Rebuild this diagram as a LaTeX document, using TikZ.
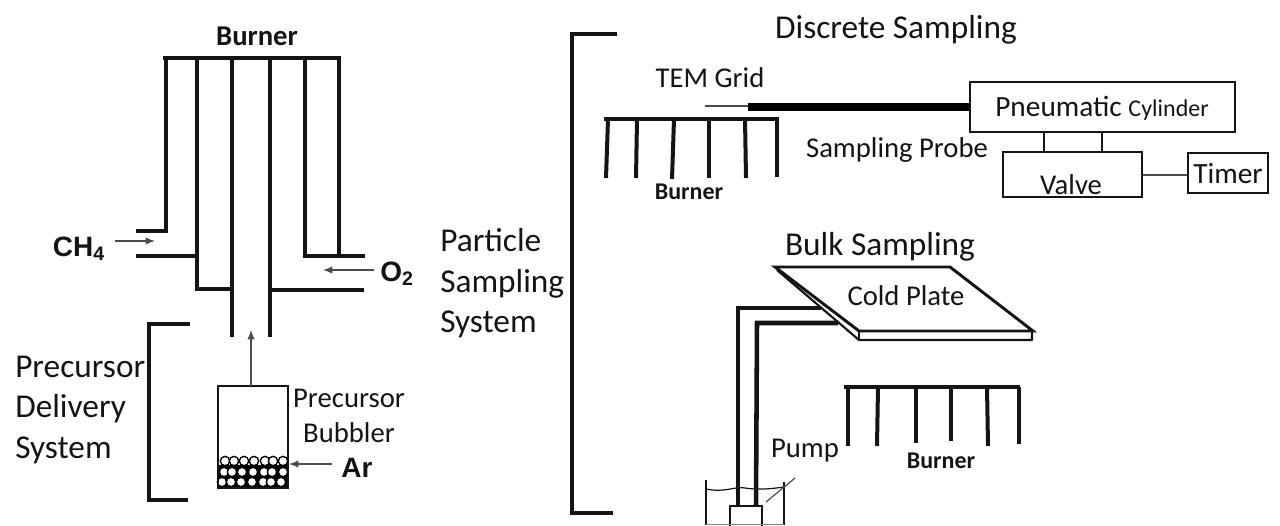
\documentclass[tikz,border=0pt]{standalone}
\usepackage{fontspec}
\setmainfont{Carlito}
\newfontfamily\arialbold[BoldFont=Liberation Sans Bold]{Liberation Sans}
\usetikzlibrary{arrows.meta}
\definecolor{ink}{gray}{0.08}
\definecolor{thin}{gray}{0.3}
\newcommand{\fsz}[1]{\fontsize{#1}{#1}\selectfont}
\tikzset{
  wall/.style={line width=3pt,draw=ink,line cap=butt,line join=miter},
  bracketline/.style={line width=2.3pt,draw=ink,line join=miter},
  boxline/.style={draw=ink,line width=2.2pt,fill=white,inner sep=0pt},
  thinarrow/.style={draw=thin,line width=0.9pt,-{Latex[length=7pt,width=5.5pt]}},
  thinline/.style={draw=thin,line width=0.9pt},
  label/.style={inner sep=0pt,text=ink,font=\fsz{21.5},anchor=base},
  biglabel/.style={inner sep=0pt,text=ink,font=\fsz{25},anchor=base west},
  burnerbig/.style={inner sep=0pt,text=ink,font=\fsz{21.5}\bfseries,anchor=base},
  burnersmall/.style={inner sep=0pt,text=ink,font=\fsz{18}\bfseries,anchor=base},
  gaslabel/.style={inner sep=0pt,text=ink,font=\fsz{21}\arialbold\bfseries,anchor=base},
  bubble/.style={circle,draw=black,line width=1pt,fill=white,minimum size=7pt,inner sep=0pt}
}
\begin{document}
\begin{tikzpicture}[x=0.75pt,y=-0.75pt]
\useasboundingbox (0,0) rectangle (1280,525);
% main burner
\draw[wall] (136,231) -- (166,231) -- (166,58);
\draw[wall] (163,58) -- (341,58);
\draw[wall] (136,256) -- (197,256);
\draw[wall] (197,58) -- (197,289) -- (232,289);
\draw[wall] (232,58) -- (232,337);
\draw[wall] (270,58) -- (270,337);
\draw[wall] (272,290) -- (364,290);
\draw[wall] (305,58) -- (305,256) -- (365,256);
\draw[wall] (339,58) -- (339,256);
\node[burnerbig] (burnerA) at (257,45) {Burner};
\node[gaslabel] (ch4) at (79,256) {CH\textsubscript{4}};
\node[gaslabel] (o2) at (397,281) {O\textsubscript{2}};
\coordinate (ch4s) at (115,241); \coordinate (ch4e) at (155,241);
\coordinate (o2s) at (374,270); \coordinate (o2e) at (323,270);
\draw[thinarrow] (ch4s) -- (ch4e);
\draw[thinarrow] (o2s) -- (o2e);
% precursor bracket and text
\draw[bracketline] (190,324) -- (149,324) -- (149,500) -- (188,500);
\node[biglabel] (pd1) at (15,377) {Precursor};
\node[biglabel] (pd2) at (15,417) {Delivery};
\node[biglabel] (pd3) at (15,458) {System};
% bubbler
\node[boxline,minimum width=52.5pt,minimum height=76.5pt,line width=1.6pt] (bubbler) at (253,437) {};
\fill[black] (219,465) rectangle (288,488);
\foreach \x/\n in {225/a,234/b,244/c,254/d,265/e,273/f,283/g}{\node[bubble] (r1\n) at (\x,461) {};}
\foreach \x/\n in {224/a,232/b,242/c,253/d,264/e,272/f,283/g}{\node[bubble] (r2\n) at (\x,472) {};}
\foreach \x/\n in {222/a,231/b,241/c,252/d,263/e,271/f,281/g}{\node[bubble] (r3\n) at (\x,482) {};}
\draw[draw=ink,line width=1.6pt] (218,386) rectangle (288,488);
\coordinate (bubout) at (251,386); \coordinate (tubein) at (251,330);
\draw[thinarrow] (bubout) -- (tubein);
\coordinate (ars) at (332,464); \coordinate (are) at (289,464);
\draw[thinarrow] (ars) -- (are);
\node[label] (pb1) at (349,407) {Precursor};
\node[label] (pb2) at (349,442) {Bubbler};
\node[gaslabel] (ar) at (357,477) {Ar};
% particle bracket and text
\draw[bracketline] (617,34) -- (572,34) -- (572,513) -- (613,513);
\node[biglabel] (ps1) at (440,251) {Particle};
\node[biglabel] (ps2) at (440,292) {Sampling};
\node[biglabel] (ps3) at (440,332) {System};
% discrete sampling
\node[label,font=\fsz{25}] (ds) at (896,38) {Discrete Sampling};
\node[label] (tem) at (710,87) {TEM Grid};
\node[label] (probe) at (897,157) {Sampling Probe};
\node[boxline,minimum width=198.75pt,minimum height=37.5pt] (pneu) at (1102.5,107) {};
\node[inner sep=0pt,text=ink,anchor=base] (pneutext) at (1102,116) {\fsz{22}Pneumatic \fsz{18}Cylinder};
\node[boxline,minimum width=104.25pt,minimum height=33.75pt,line width=1.7pt] (valve) at (1072.5,174.5) {};
\node[label] (valvetext) at (1071,194) {Valve};
\node[boxline,minimum width=60pt,minimum height=30pt,line width=1.7pt] (timer) at (1228,173) {};
\node[label,font=\fsz{22}] (timertext) at (1228,183) {Timer};
\coordinate (probeA) at (748,107); \coordinate (gridA) at (705,106);
\draw[line width=6pt,draw=black] (probeA) -- (pneu.west |- probeA);
\draw[thinline,line width=1.1pt] (gridA) -- (748,106);
\coordinate (v1) at (1044,152); \coordinate (v2) at (1102,152);
\draw[line width=2pt,draw=ink] (v1) -- (1044,132);
\draw[line width=2pt,draw=ink] (v2) -- (1102,132);
\draw[thinline] (valve.east |- 0,175) -- (timer.west |- 0,175);
% discrete burner
\draw[wall] (604,119) -- (779,119);
\draw[wall] (608,119) -- (606,178);
\draw[wall] (637,119) -- (636,178);
\draw[wall] (674,119) -- (672,179);
\draw[wall] (709,119) -- (709,178);
\draw[wall] (745,119) -- (746,178);
\draw[wall] (777,119) -- (777,177);
\node[burnersmall] (burnerB) at (689,199) {Burner};
% bulk sampling
\node[label,font=\fsz{25}] (bs) at (880,255) {Bulk Sampling};
\draw[wall,line width=2.2pt,fill=white] (775,267) -- (950,267) -- (1033,331) -- (859,331) -- cycle;
\draw[draw=ink,line width=1.6pt,line join=round] (777,270) -- (859,340) -- (1032,340) -- (1032,331);
\draw[draw=ink,line width=1.6pt] (859,331) -- (859,340);
\node[label] (cold) at (906,305) {Cold Plate};
% pipes
\draw[wall,line width=3.4pt] (821,308) -- (738,308) -- (738,505);
\draw[wall,line width=3.4pt] (838,323) -- (757,323) -- (756,505);
% bath
\node[draw=ink,line width=1.2pt,fill=white,minimum width=24pt,minimum height=20pt,inner sep=0pt,anchor=north] (pump) at (746,505) {};
\draw[draw=ink,line width=1.4pt] (706,480) -- (706,525);
\draw[draw=ink,line width=1.4pt] (784,482) -- (784,525);
\draw[draw=ink,line width=0.9pt] (706,489) .. controls (725,493) and (735,486) .. (745,488) .. controls (758,490) and (770,489) .. (784,487);
\draw[draw=gray,line width=0.7pt] (706,524.5) -- (784,524.5);
\coordinate (pl1) at (766,502); \coordinate (pl2) at (795,478);
\draw[thinline] (pl1) -- (pl2);
\node[label] (pumpt) at (805,457) {Pump};
% bulk burner
\draw[wall] (844,387) -- (1020,387);
\draw[wall] (848,387) -- (848,446);
\draw[wall] (878,387) -- (877,446);
\draw[wall] (916,387) -- (916,443);
\draw[wall] (951,387) -- (951,441);
\draw[wall] (987,387) -- (988,446);
\draw[wall] (1019,387) -- (1019,444);
\node[burnersmall] (burnerC) at (941,468) {Burner};
\end{tikzpicture}
\end{document}
